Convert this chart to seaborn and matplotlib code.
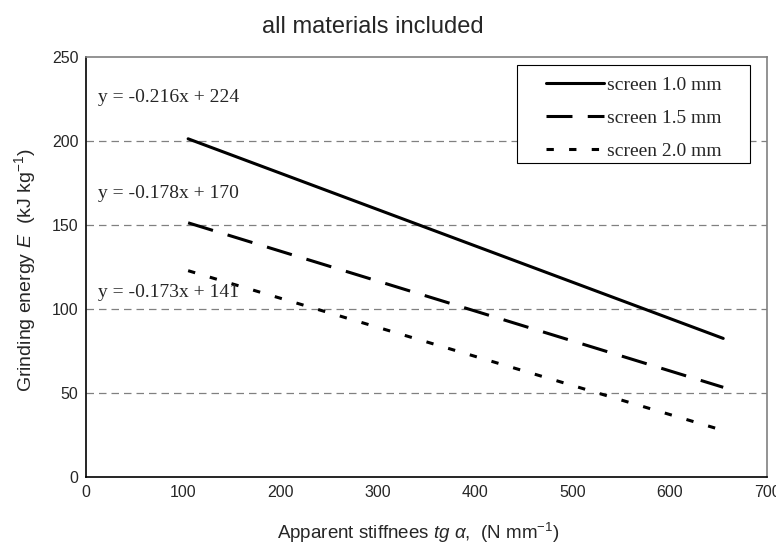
import matplotlib
matplotlib.use("Agg")
import matplotlib.pyplot as plt
import seaborn as sns
import pandas as pd
from matplotlib.patches import Rectangle

# Data (line endpoints)
stiffness = [105, 655]
screen_10 = [201.3, 82.5]
screen_15 = [151.3, 53.4]
screen_20 = [122.8, 27.7]
series_names = ["screen 1.0 mm", "screen 1.5 mm", "screen 2.0 mm"]
equations = ["y = -0.216x + 224", "y = -0.178x + 170", "y = -0.173x + 141"]
eq_pos_y = [226, 169, 110]
eq_pos_x = 12
x_ticks = [0, 100, 200, 300, 400, 500, 600, 700]
y_ticks = [0, 50, 100, 150, 200, 250]

rows = []
for name, vals in zip(series_names, [screen_10, screen_15, screen_20]):
    for x, y in zip(stiffness, vals):
        rows.append({"x": x, "y": y, "series": name})
df = pd.DataFrame(rows)

sns.set_theme(style="white")
plt.rcParams["font.family"] = ["Liberation Sans", "DejaVu Sans"]
plt.rcParams["mathtext.fontset"] = "custom"
plt.rcParams["mathtext.rm"] = "Liberation Sans"
plt.rcParams["mathtext.it"] = "Liberation Sans:italic"

fig = plt.figure(figsize=(7.76, 5.5), dpi=100)
ax = fig.add_axes([0.1108, 0.1327, 0.8776, 0.7637])

dashes = {"screen 1.0 mm": "", "screen 1.5 mm": (8.5, 5), "screen 2.0 mm": (2.4, 5)}
sns.lineplot(data=df, x="x", y="y", style="series", dashes=dashes,
             color="black", linewidth=2.2, ax=ax, legend=True)

for yv in [50, 100, 150, 200]:
    ax.axhline(yv, color="#808080", linestyle=(0, (6, 4)), linewidth=0.9, zorder=0)

ax.set_xlim(0, 700)
ax.set_ylim(0, 250)
ax.set_xticks(x_ticks)
ax.set_yticks(y_ticks)
ax.tick_params(axis="both", labelsize=11.5, length=7, width=1, direction="inout", color="black", pad=2)
for lbl in ax.get_xticklabels() + ax.get_yticklabels():
    lbl.set_family("Liberation Sans")

for s in ["left", "bottom"]:
    ax.spines[s].set_color("black")
    ax.spines[s].set_linewidth(1.2)
for s in ["top", "right"]:
    ax.spines[s].set_color("#808080")
    ax.spines[s].set_linewidth(1.2)
    ax.spines[s].set_visible(True)

for txt, yv in zip(equations, eq_pos_y):
    ax.text(eq_pos_x, yv, txt, fontsize=14, family="Liberation Serif", va="center", ha="left")

ax.set_xlabel(r"Apparent stiffnees $\it{tg}\ \alpha$,  (N mm$^{-1}$)", fontsize=13.5)
ax.xaxis.set_label_coords((418 - 86) / 681, -0.105)
ax.set_ylabel(r"Grinding energy $\it{E}$  (kJ kg$^{-1}$)", fontsize=14)
ax.yaxis.set_label_coords(-0.07, (477 - 270) / 420)
fig.text(373 / 776, 1 - 33 / 550, "all materials included", fontsize=17, ha="center", va="baseline")

# legend frame drawn as a box, legend entries placed inside it
ax.add_patch(Rectangle((0.633, 0.748), 0.342, 0.233, transform=ax.transAxes,
                       facecolor="white", edgecolor="black", linewidth=0.8, zorder=4))
leg = ax.legend(loc="upper left", bbox_to_anchor=((546 - 86) / 681, (477 - 76) / 420),
                frameon=False, prop={"family": "Liberation Serif", "size": 14},
                handlelength=3.0, handletextpad=0.12, borderpad=0, labelspacing=0.8,
                borderaxespad=0)
leg.set_zorder(5)

fig.savefig("out.png", dpi=100)
